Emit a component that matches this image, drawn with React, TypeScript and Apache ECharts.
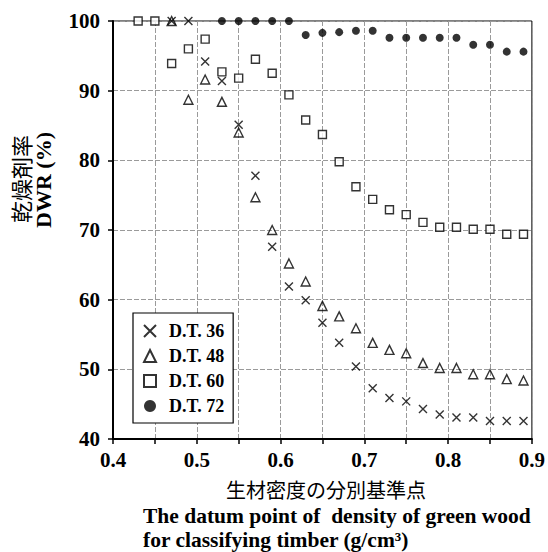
import { useEffect, useRef } from 'react';
import * as echarts from 'echarts';

// Datum points of green-wood density (g/cm3) used for classifying timber
const densityPoints = [
  0.43, 0.45, 0.47, 0.49, 0.51, 0.53, 0.55, 0.57, 0.59, 0.61, 0.63, 0.65,
  0.67, 0.69, 0.71, 0.73, 0.75, 0.77, 0.79, 0.81, 0.83, 0.85, 0.87, 0.89,
];

// Drying weight ratio DWR (%) for each drying time
const dt36 = [
  null, null, 100, 100, 94.2, 91.4, 85.1, 77.8, 67.6, 61.9, 59.9, 56.7,
  53.8, 50.4, 47.3, 45.9, 45.4, 44.3, 43.5, 43.1, 43.1, 42.6, 42.6, 42.6,
];
const dt48 = [
  null, null, 100, 88.7, 91.6, 88.4, 84.0, 74.7, 70.0, 65.2, 62.6, 59.1,
  57.6, 55.9, 53.8, 52.8, 52.3, 50.9, 50.2, 50.2, 49.3, 49.3, 48.6, 48.4,
];
const dt60 = [
  100, 100, 93.9, 96.0, 97.4, 92.7, 91.8, 94.5, 92.5, 89.4, 85.8, 83.7,
  79.8, 76.2, 74.4, 72.9, 72.2, 71.1, 70.4, 70.4, 70.1, 70.1, 69.4, 69.4,
];
const dt72 = [
  null, null, null, null, null, 100, 100, 100, 100, 100, 98.0, 98.3,
  98.4, 98.6, 98.6, 97.6, 97.6, 97.6, 97.6, 97.6, 96.6, 96.6, 95.6, 95.6,
];

const seriesNames = ['D.T. 36', 'D.T. 48', 'D.T. 60', 'D.T. 72'];

const yTitleJa = '乾燥剤率';
const yTitleEn = 'DWR (%)';
const xTitleJa = '生材密度の分別基準点';
const xTitleEn1 = 'The datum point of  density of green wood';
const xTitleEn2 = 'for classifying timber (g/cm³)';

const SERIF = '"Liberation Serif", "Times New Roman", serif';
const CJK = '"Noto Sans CJK JP", sans-serif';

function toPairs(values: (number | null)[]) {
  return densityPoints
    .map((x, i) => [x, values[i]] as [number, number | null])
    .filter((p) => p[1] !== null);
}

const gridDash = { color: '#9a9a9a', width: 1, type: [5, 2] as number[] };

export default function App() {
  const ref = useRef<HTMLDivElement>(null);

  useEffect(() => {
    if (!ref.current) return;
    const chart = echarts.init(ref.current, undefined, { renderer: 'svg' });

    const common = {
      type: 'scatter' as const,
      clip: false,
      emphasis: { disabled: true },
      silent: true,
    };

    chart.setOption({
      animation: false,
      backgroundColor: '#fff',
      grid: {
        left: 113,
        right: 11,
        top: 21,
        bottom: 113,
        show: true,
        borderColor: '#000',
        borderWidth: 1,
      },
      xAxis: {
        type: 'value',
        min: 0.4,
        max: 0.9,
        interval: 0.1,
        axisLine: { show: true, lineStyle: { color: '#000', width: 2 } },
        axisTick: { show: true, length: 5, lineStyle: { color: '#000', width: 1.5 } },
        minorTick: { show: true, splitNumber: 2, length: 5, lineStyle: { color: '#000', width: 1.5 } },
        splitLine: { show: true, lineStyle: gridDash },
        minorSplitLine: { show: true, lineStyle: gridDash },
        axisLabel: {
          margin: 10,
          color: '#000',
          fontFamily: SERIF,
          fontWeight: 'bold',
          fontSize: 21,
          formatter: (v: number) => v.toFixed(1),
        },
      },
      yAxis: {
        type: 'value',
        min: 40,
        max: 100,
        interval: 10,
        axisLine: { show: true, lineStyle: { color: '#000', width: 2 } },
        axisTick: { show: true, length: 5, lineStyle: { color: '#000', width: 1.5 } },
        splitLine: { show: true, lineStyle: gridDash },
        axisLabel: {
          margin: 13,
          color: '#000',
          fontFamily: SERIF,
          fontWeight: 'bold',
          fontSize: 21,
        },
      },
      legend: {
        orient: 'vertical',
        left: 133,
        top: 313,
        data: seriesNames,
        itemWidth: 12,
        itemHeight: 12,
        itemGap: 7,
        padding: [9, 9, 8, 10],
        backgroundColor: '#fff',
        borderColor: '#000',
        borderWidth: 1.2,
        borderRadius: 0,
        selectedMode: false,
        textStyle: {
          color: '#000',
          fontFamily: SERIF,
          fontWeight: 'bold',
          fontSize: 18,
          lineHeight: 18,
          padding: [0, 0, 0, 8],
        },
      },
      series: [
        {
          ...common,
          name: seriesNames[0],
          symbol: 'path://M0,0L10,10M10,0L0,10',
          symbolSize: 8,
          itemStyle: { color: '#000', borderColor: '#000', borderWidth: 1.4 },
          data: toPairs(dt36),
          z: 3,
        },
        {
          ...common,
          name: seriesNames[1],
          symbol: 'triangle',
          symbolSize: 9,
          itemStyle: { color: 'transparent', borderColor: '#000', borderWidth: 1.4 },
          data: toPairs(dt48),
          z: 2,
        },
        {
          ...common,
          name: seriesNames[2],
          symbol: 'rect',
          symbolSize: 8,
          itemStyle: { color: '#fff', borderColor: '#000', borderWidth: 1.4 },
          data: toPairs(dt60),
          z: 2,
        },
        {
          ...common,
          name: seriesNames[3],
          symbol: 'circle',
          symbolSize: 8,
          itemStyle: { color: '#000' },
          data: toPairs(dt72),
          z: 2,
        },
      ],
      graphic: [
        {
          type: 'text',
          x: 20,
          y: 179,
          rotation: Math.PI / 2,
          style: {
            text: yTitleJa,
            font: `22px ${CJK}`,
            lineHeight: 22,
            fill: '#000',
            align: 'center',
            verticalAlign: 'middle',
          },
        },
        {
          type: 'text',
          x: 43,
          y: 180,
          rotation: Math.PI / 2,
          style: {
            text: yTitleEn,
            font: `bold 22px ${SERIF}`,
            lineHeight: 22,
            fill: '#000',
            align: 'center',
            verticalAlign: 'middle',
          },
        },
        {
          type: 'text',
          x: 326,
          y: 489,
          style: {
            text: xTitleJa,
            font: `20px ${CJK}`,
            lineHeight: 20,
            fill: '#000',
            align: 'center',
            verticalAlign: 'middle',
          },
        },
        {
          type: 'text',
          x: 143,
          y: 516,
          style: {
            text: xTitleEn1,
            font: `bold 21.5px ${SERIF}`,
            lineHeight: 22,
            fill: '#000',
            align: 'left',
            verticalAlign: 'middle',
          },
        },
        {
          type: 'text',
          x: 143,
          y: 540,
          style: {
            text: xTitleEn2,
            font: `bold 21.5px ${SERIF}`,
            lineHeight: 22,
            fill: '#000',
            align: 'left',
            verticalAlign: 'middle',
          },
        },
      ],
    });

    return () => chart.dispose();
  }, []);

  return (
    <div
      ref={ref}
      style={{ position: 'fixed', left: 0, top: 0, width: 548, height: 552 }}
    />
  );
}
